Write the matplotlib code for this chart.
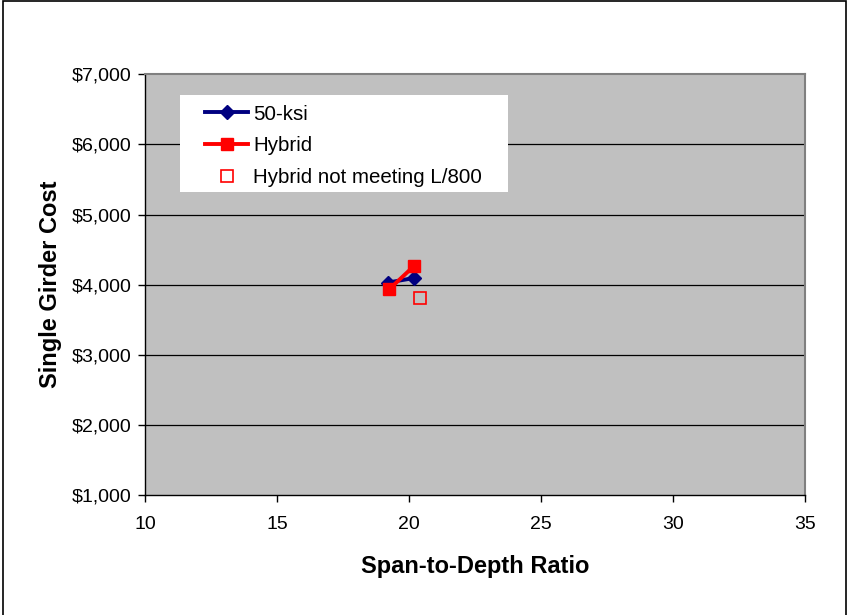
import matplotlib.pyplot as plt
from matplotlib.patches import Rectangle
from matplotlib.ticker import FuncFormatter

plt.rcParams['font.family'] = ['Liberation Sans', 'DejaVu Sans']

# girder cost vs span-to-depth ratio
ksi50_ratio = [19.2, 20.2]
ksi50_cost = [4030, 4095]
hybrid_ratio = [19.25, 20.2]
hybrid_cost = [3935, 4270]
hybrid_fail_ratio = [20.4]
hybrid_fail_cost = [3810]

x_ticks = [10, 15, 20, 25, 30, 35]
y_ticks = [1000, 2000, 3000, 4000, 5000, 6000, 7000]

fig = plt.figure(figsize=(8.49, 6.15), dpi=100)
ax = fig.add_axes([0.1708, 0.1951, 0.7774, 0.6841])
ax.set_facecolor('#c0c0c0')

# outer chart border
fig.patches.append(Rectangle((3 / 849, -0.01), 843 / 849, 1 - 1 / 615 + 0.01,
                             transform=fig.transFigure, fill=False,
                             edgecolor='black', linewidth=1.2))

for y in y_ticks[1:-1]:
    ax.axhline(y, color='black', linewidth=0.9, zorder=1)

ax.plot(ksi50_ratio, ksi50_cost, color='#000080', marker='D', markersize=7.5,
        linewidth=2.8, label='50-ksi', zorder=3)
ax.plot(hybrid_ratio, hybrid_cost, color='#ff0000', marker='s', markersize=9,
        linewidth=2.8, label='Hybrid', zorder=4)
ax.plot(hybrid_fail_ratio, hybrid_fail_cost, linestyle='none', marker='s',
        markersize=9, markerfacecolor='none', markeredgecolor='#ff0000',
        markeredgewidth=1.2, label='Hybrid not meeting L/800', zorder=4)

ax.set_xlim(10, 35)
ax.set_ylim(1000, 7000)
ax.set_xticks(x_ticks)
ax.set_yticks(y_ticks)
ax.yaxis.set_major_formatter(FuncFormatter(lambda v, p: '${:,.0f}'.format(v)))
ax.tick_params(direction='out', length=5, width=1, labelsize=14, pad=5)
ax.tick_params(axis='x', pad=10)

for side in ['top', 'right']:
    ax.spines[side].set_color('#808080')
    ax.spines[side].set_linewidth(1.5)
for side in ['left', 'bottom']:
    ax.spines[side].set_color('black')
    ax.spines[side].set_linewidth(1)

ax.set_xlabel('Span-to-Depth Ratio', fontsize=17, fontweight='bold', labelpad=16)
ax.set_ylabel('Single Girder Cost', fontsize=17, fontweight='bold', labelpad=7)

# white legend panel
ax.add_patch(Rectangle((0.053, 0.7197), 0.497, 0.2303, transform=ax.transAxes,
                       facecolor='white', edgecolor='none', zorder=5))
leg = ax.legend(loc='upper left', bbox_to_anchor=(0.0909, 0.928), borderaxespad=0,
                borderpad=0, fontsize=14.8, frameon=False, handlelength=2.1,
                handletextpad=0.25, labelspacing=0.62)
leg.set_zorder(6)

fig.savefig('out.png', dpi=100)
